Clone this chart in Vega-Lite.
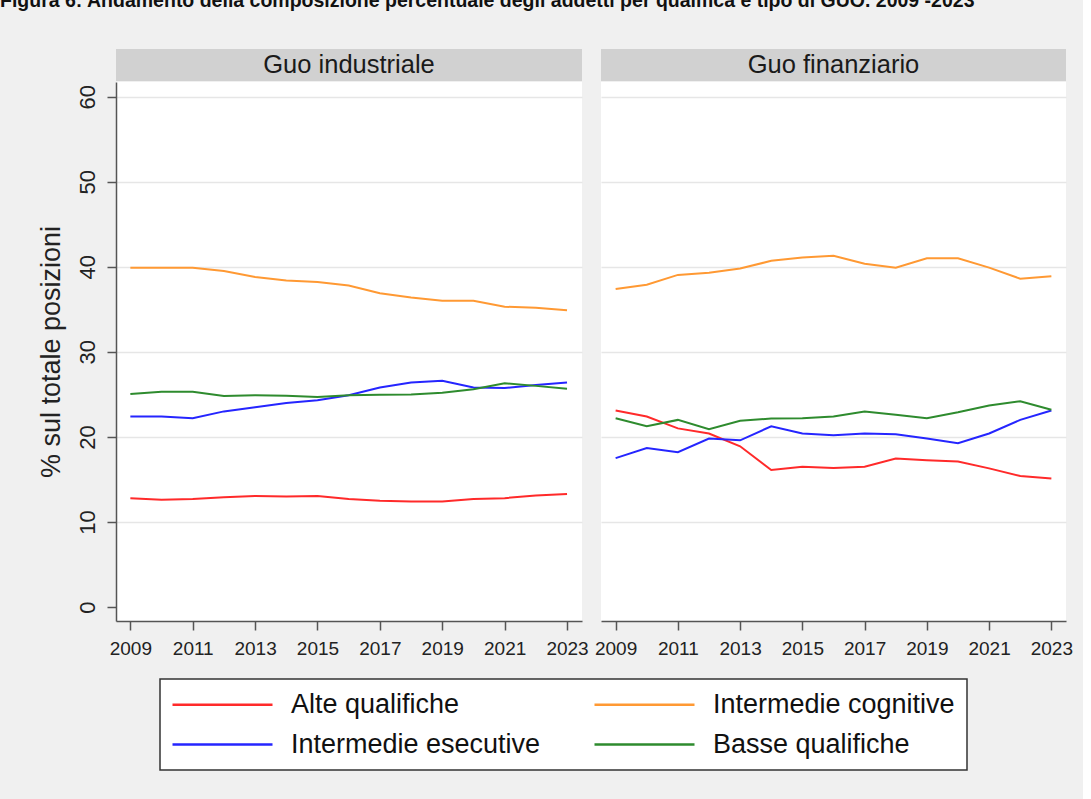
{
  "$schema": "https://vega.github.io/schema/vega-lite/v6.json",
  "background": "#f0f0f0",
  "padding": {"left": 0, "top": -9, "right": 10, "bottom": 29},
  "title": {
    "text": "Figura 6: Andamento della composizione percentuale degli addetti per qualifica e tipo di GUO. 2009 -2023",
    "anchor": "start",
    "frame": "bounds",
    "font": "Liberation Sans Narrow, Liberation Sans",
    "fontSize": 19.5,
    "fontWeight": "bold",
    "color": "#111111",
    "dx": -37,
    "offset": 37.5
  },
  "datasets": {
    "d": [
      {"guo": "Guo industriale", "qualifica": "Alte qualifiche", "anno": 2009, "valore": 12.8},
      {"guo": "Guo industriale", "qualifica": "Alte qualifiche", "anno": 2010, "valore": 12.6},
      {"guo": "Guo industriale", "qualifica": "Alte qualifiche", "anno": 2011, "valore": 12.7},
      {"guo": "Guo industriale", "qualifica": "Alte qualifiche", "anno": 2012, "valore": 12.9},
      {"guo": "Guo industriale", "qualifica": "Alte qualifiche", "anno": 2013, "valore": 13.05},
      {"guo": "Guo industriale", "qualifica": "Alte qualifiche", "anno": 2014, "valore": 13.0},
      {"guo": "Guo industriale", "qualifica": "Alte qualifiche", "anno": 2015, "valore": 13.05},
      {"guo": "Guo industriale", "qualifica": "Alte qualifiche", "anno": 2016, "valore": 12.7},
      {"guo": "Guo industriale", "qualifica": "Alte qualifiche", "anno": 2017, "valore": 12.5},
      {"guo": "Guo industriale", "qualifica": "Alte qualifiche", "anno": 2018, "valore": 12.4},
      {"guo": "Guo industriale", "qualifica": "Alte qualifiche", "anno": 2019, "valore": 12.4},
      {"guo": "Guo industriale", "qualifica": "Alte qualifiche", "anno": 2020, "valore": 12.7},
      {"guo": "Guo industriale", "qualifica": "Alte qualifiche", "anno": 2021, "valore": 12.8},
      {"guo": "Guo industriale", "qualifica": "Alte qualifiche", "anno": 2022, "valore": 13.1},
      {"guo": "Guo industriale", "qualifica": "Alte qualifiche", "anno": 2023, "valore": 13.3},
      {"guo": "Guo industriale", "qualifica": "Intermedie cognitive", "anno": 2009, "valore": 39.9},
      {"guo": "Guo industriale", "qualifica": "Intermedie cognitive", "anno": 2010, "valore": 39.9},
      {"guo": "Guo industriale", "qualifica": "Intermedie cognitive", "anno": 2011, "valore": 39.9},
      {"guo": "Guo industriale", "qualifica": "Intermedie cognitive", "anno": 2012, "valore": 39.5},
      {"guo": "Guo industriale", "qualifica": "Intermedie cognitive", "anno": 2013, "valore": 38.8},
      {"guo": "Guo industriale", "qualifica": "Intermedie cognitive", "anno": 2014, "valore": 38.4},
      {"guo": "Guo industriale", "qualifica": "Intermedie cognitive", "anno": 2015, "valore": 38.2},
      {"guo": "Guo industriale", "qualifica": "Intermedie cognitive", "anno": 2016, "valore": 37.8},
      {"guo": "Guo industriale", "qualifica": "Intermedie cognitive", "anno": 2017, "valore": 36.9},
      {"guo": "Guo industriale", "qualifica": "Intermedie cognitive", "anno": 2018, "valore": 36.4},
      {"guo": "Guo industriale", "qualifica": "Intermedie cognitive", "anno": 2019, "valore": 36.0},
      {"guo": "Guo industriale", "qualifica": "Intermedie cognitive", "anno": 2020, "valore": 36.0},
      {"guo": "Guo industriale", "qualifica": "Intermedie cognitive", "anno": 2021, "valore": 35.3},
      {"guo": "Guo industriale", "qualifica": "Intermedie cognitive", "anno": 2022, "valore": 35.2},
      {"guo": "Guo industriale", "qualifica": "Intermedie cognitive", "anno": 2023, "valore": 34.9},
      {"guo": "Guo industriale", "qualifica": "Intermedie esecutive", "anno": 2009, "valore": 22.4},
      {"guo": "Guo industriale", "qualifica": "Intermedie esecutive", "anno": 2010, "valore": 22.4},
      {"guo": "Guo industriale", "qualifica": "Intermedie esecutive", "anno": 2011, "valore": 22.2},
      {"guo": "Guo industriale", "qualifica": "Intermedie esecutive", "anno": 2012, "valore": 23.0},
      {"guo": "Guo industriale", "qualifica": "Intermedie esecutive", "anno": 2013, "valore": 23.5},
      {"guo": "Guo industriale", "qualifica": "Intermedie esecutive", "anno": 2014, "valore": 24.0},
      {"guo": "Guo industriale", "qualifica": "Intermedie esecutive", "anno": 2015, "valore": 24.3},
      {"guo": "Guo industriale", "qualifica": "Intermedie esecutive", "anno": 2016, "valore": 24.9},
      {"guo": "Guo industriale", "qualifica": "Intermedie esecutive", "anno": 2017, "valore": 25.8},
      {"guo": "Guo industriale", "qualifica": "Intermedie esecutive", "anno": 2018, "valore": 26.4},
      {"guo": "Guo industriale", "qualifica": "Intermedie esecutive", "anno": 2019, "valore": 26.6},
      {"guo": "Guo industriale", "qualifica": "Intermedie esecutive", "anno": 2020, "valore": 25.8},
      {"guo": "Guo industriale", "qualifica": "Intermedie esecutive", "anno": 2021, "valore": 25.75},
      {"guo": "Guo industriale", "qualifica": "Intermedie esecutive", "anno": 2022, "valore": 26.1},
      {"guo": "Guo industriale", "qualifica": "Intermedie esecutive", "anno": 2023, "valore": 26.4},
      {"guo": "Guo industriale", "qualifica": "Basse qualifiche", "anno": 2009, "valore": 25.05},
      {"guo": "Guo industriale", "qualifica": "Basse qualifiche", "anno": 2010, "valore": 25.3},
      {"guo": "Guo industriale", "qualifica": "Basse qualifiche", "anno": 2011, "valore": 25.3},
      {"guo": "Guo industriale", "qualifica": "Basse qualifiche", "anno": 2012, "valore": 24.8},
      {"guo": "Guo industriale", "qualifica": "Basse qualifiche", "anno": 2013, "valore": 24.9},
      {"guo": "Guo industriale", "qualifica": "Basse qualifiche", "anno": 2014, "valore": 24.85},
      {"guo": "Guo industriale", "qualifica": "Basse qualifiche", "anno": 2015, "valore": 24.7},
      {"guo": "Guo industriale", "qualifica": "Basse qualifiche", "anno": 2016, "valore": 24.9},
      {"guo": "Guo industriale", "qualifica": "Basse qualifiche", "anno": 2017, "valore": 24.95},
      {"guo": "Guo industriale", "qualifica": "Basse qualifiche", "anno": 2018, "valore": 25.0},
      {"guo": "Guo industriale", "qualifica": "Basse qualifiche", "anno": 2019, "valore": 25.2},
      {"guo": "Guo industriale", "qualifica": "Basse qualifiche", "anno": 2020, "valore": 25.6},
      {"guo": "Guo industriale", "qualifica": "Basse qualifiche", "anno": 2021, "valore": 26.3},
      {"guo": "Guo industriale", "qualifica": "Basse qualifiche", "anno": 2022, "valore": 26.0},
      {"guo": "Guo industriale", "qualifica": "Basse qualifiche", "anno": 2023, "valore": 25.65},
      {"guo": "Guo finanziario", "qualifica": "Alte qualifiche", "anno": 2009, "valore": 23.1},
      {"guo": "Guo finanziario", "qualifica": "Alte qualifiche", "anno": 2010, "valore": 22.4},
      {"guo": "Guo finanziario", "qualifica": "Alte qualifiche", "anno": 2011, "valore": 21.0},
      {"guo": "Guo finanziario", "qualifica": "Alte qualifiche", "anno": 2012, "valore": 20.4},
      {"guo": "Guo finanziario", "qualifica": "Alte qualifiche", "anno": 2013, "valore": 18.9},
      {"guo": "Guo finanziario", "qualifica": "Alte qualifiche", "anno": 2014, "valore": 16.1},
      {"guo": "Guo finanziario", "qualifica": "Alte qualifiche", "anno": 2015, "valore": 16.5},
      {"guo": "Guo finanziario", "qualifica": "Alte qualifiche", "anno": 2016, "valore": 16.35},
      {"guo": "Guo finanziario", "qualifica": "Alte qualifiche", "anno": 2017, "valore": 16.5},
      {"guo": "Guo finanziario", "qualifica": "Alte qualifiche", "anno": 2018, "valore": 17.45},
      {"guo": "Guo finanziario", "qualifica": "Alte qualifiche", "anno": 2019, "valore": 17.25},
      {"guo": "Guo finanziario", "qualifica": "Alte qualifiche", "anno": 2020, "valore": 17.1},
      {"guo": "Guo finanziario", "qualifica": "Alte qualifiche", "anno": 2021, "valore": 16.3},
      {"guo": "Guo finanziario", "qualifica": "Alte qualifiche", "anno": 2022, "valore": 15.4},
      {"guo": "Guo finanziario", "qualifica": "Alte qualifiche", "anno": 2023, "valore": 15.1},
      {"guo": "Guo finanziario", "qualifica": "Intermedie cognitive", "anno": 2009, "valore": 37.4},
      {"guo": "Guo finanziario", "qualifica": "Intermedie cognitive", "anno": 2010, "valore": 37.9},
      {"guo": "Guo finanziario", "qualifica": "Intermedie cognitive", "anno": 2011, "valore": 39.05},
      {"guo": "Guo finanziario", "qualifica": "Intermedie cognitive", "anno": 2012, "valore": 39.3},
      {"guo": "Guo finanziario", "qualifica": "Intermedie cognitive", "anno": 2013, "valore": 39.8},
      {"guo": "Guo finanziario", "qualifica": "Intermedie cognitive", "anno": 2014, "valore": 40.7},
      {"guo": "Guo finanziario", "qualifica": "Intermedie cognitive", "anno": 2015, "valore": 41.1},
      {"guo": "Guo finanziario", "qualifica": "Intermedie cognitive", "anno": 2016, "valore": 41.3},
      {"guo": "Guo finanziario", "qualifica": "Intermedie cognitive", "anno": 2017, "valore": 40.35},
      {"guo": "Guo finanziario", "qualifica": "Intermedie cognitive", "anno": 2018, "valore": 39.9},
      {"guo": "Guo finanziario", "qualifica": "Intermedie cognitive", "anno": 2019, "valore": 41.0},
      {"guo": "Guo finanziario", "qualifica": "Intermedie cognitive", "anno": 2020, "valore": 41.0},
      {"guo": "Guo finanziario", "qualifica": "Intermedie cognitive", "anno": 2021, "valore": 39.9},
      {"guo": "Guo finanziario", "qualifica": "Intermedie cognitive", "anno": 2022, "valore": 38.6},
      {"guo": "Guo finanziario", "qualifica": "Intermedie cognitive", "anno": 2023, "valore": 38.9},
      {"guo": "Guo finanziario", "qualifica": "Intermedie esecutive", "anno": 2009, "valore": 17.5},
      {"guo": "Guo finanziario", "qualifica": "Intermedie esecutive", "anno": 2010, "valore": 18.7},
      {"guo": "Guo finanziario", "qualifica": "Intermedie esecutive", "anno": 2011, "valore": 18.2},
      {"guo": "Guo finanziario", "qualifica": "Intermedie esecutive", "anno": 2012, "valore": 19.8},
      {"guo": "Guo finanziario", "qualifica": "Intermedie esecutive", "anno": 2013, "valore": 19.6},
      {"guo": "Guo finanziario", "qualifica": "Intermedie esecutive", "anno": 2014, "valore": 21.25},
      {"guo": "Guo finanziario", "qualifica": "Intermedie esecutive", "anno": 2015, "valore": 20.4},
      {"guo": "Guo finanziario", "qualifica": "Intermedie esecutive", "anno": 2016, "valore": 20.2},
      {"guo": "Guo finanziario", "qualifica": "Intermedie esecutive", "anno": 2017, "valore": 20.4},
      {"guo": "Guo finanziario", "qualifica": "Intermedie esecutive", "anno": 2018, "valore": 20.3},
      {"guo": "Guo finanziario", "qualifica": "Intermedie esecutive", "anno": 2019, "valore": 19.8},
      {"guo": "Guo finanziario", "qualifica": "Intermedie esecutive", "anno": 2020, "valore": 19.25},
      {"guo": "Guo finanziario", "qualifica": "Intermedie esecutive", "anno": 2021, "valore": 20.4},
      {"guo": "Guo finanziario", "qualifica": "Intermedie esecutive", "anno": 2022, "valore": 22.0},
      {"guo": "Guo finanziario", "qualifica": "Intermedie esecutive", "anno": 2023, "valore": 23.1},
      {"guo": "Guo finanziario", "qualifica": "Basse qualifiche", "anno": 2009, "valore": 22.2},
      {"guo": "Guo finanziario", "qualifica": "Basse qualifiche", "anno": 2010, "valore": 21.25},
      {"guo": "Guo finanziario", "qualifica": "Basse qualifiche", "anno": 2011, "valore": 22.0},
      {"guo": "Guo finanziario", "qualifica": "Basse qualifiche", "anno": 2012, "valore": 20.9},
      {"guo": "Guo finanziario", "qualifica": "Basse qualifiche", "anno": 2013, "valore": 21.9},
      {"guo": "Guo finanziario", "qualifica": "Basse qualifiche", "anno": 2014, "valore": 22.15},
      {"guo": "Guo finanziario", "qualifica": "Basse qualifiche", "anno": 2015, "valore": 22.2},
      {"guo": "Guo finanziario", "qualifica": "Basse qualifiche", "anno": 2016, "valore": 22.4},
      {"guo": "Guo finanziario", "qualifica": "Basse qualifiche", "anno": 2017, "valore": 23.0},
      {"guo": "Guo finanziario", "qualifica": "Basse qualifiche", "anno": 2018, "valore": 22.6},
      {"guo": "Guo finanziario", "qualifica": "Basse qualifiche", "anno": 2019, "valore": 22.2},
      {"guo": "Guo finanziario", "qualifica": "Basse qualifiche", "anno": 2020, "valore": 22.9},
      {"guo": "Guo finanziario", "qualifica": "Basse qualifiche", "anno": 2021, "valore": 23.7},
      {"guo": "Guo finanziario", "qualifica": "Basse qualifiche", "anno": 2022, "valore": 24.2},
      {"guo": "Guo finanziario", "qualifica": "Basse qualifiche", "anno": 2023, "valore": 23.2}
    ]
  },
  "columns": 2,
  "spacing": {"row": 1, "column": 19},
  "bounds": "flush",
  "concat": [
    {
      "width": 466,
      "height": 32,
      "data": {"values": [{"t": "Guo industriale"}]},
      "mark": {"type": "text", "font": "Liberation Sans", "fontSize": 25.5, "color": "#1a1a1a"},
      "encoding": {
        "x": {"field": "t", "type": "nominal", "axis": null},
        "y": {"field": "t", "type": "nominal", "axis": null},
        "text": {"field": "t"}
      },
      "view": {"fill": "#d1d1d1", "stroke": null}
    },
    {
      "width": 465,
      "height": 32,
      "data": {"values": [{"t": "Guo finanziario"}]},
      "mark": {"type": "text", "font": "Liberation Sans", "fontSize": 25.5, "color": "#1a1a1a"},
      "encoding": {
        "x": {"field": "t", "type": "nominal", "axis": null},
        "y": {"field": "t", "type": "nominal", "axis": null},
        "text": {"field": "t"}
      },
      "view": {"fill": "#d1d1d1", "stroke": null}
    },
    {
      "width": 466,
      "height": 539,
      "data": {"name": "d"},
      "transform": [{"filter": "datum.guo === 'Guo industriale'"}],
      "mark": {"type": "line", "strokeWidth": 2, "clip": true},
      "encoding": {
        "x": {
          "field": "anno", "type": "quantitative",
          "scale": {"domain": [2008.54, 2023.48], "nice": false, "zero": false},
          "axis": {"values": [2009, 2011, 2013, 2015, 2017, 2019, 2021, 2023], "format": "d", "title": null, "grid": false}
        },
        "y": {
          "field": "valore", "type": "quantitative",
          "scale": {"domain": [-1.646, 61.73], "nice": false, "zero": false},
          "axis": {
            "values": [0, 10, 20, 30, 40, 50, 60],
            "title": "% sul totale posizioni",
            "labelAngle": -90, "labelAlign": "center", "labelBaseline": "bottom",
            "labelFontSize": 22, "labelPadding": 8,
            "titleFontSize": 27, "titlePadding": 11,
            "gridOpacity": {"condition": {"test": "datum.value === 0", "value": 0}, "value": 1}
          }
        },
        "color": {
          "field": "qualifica", "type": "nominal",
          "scale": {
            "domain": ["Alte qualifiche", "Intermedie cognitive", "Intermedie esecutive", "Basse qualifiche"],
            "range": ["#ff2a2a", "#ff9933", "#2525ff", "#2e8b2e"]
          },
          "legend": {
            "orient": "none", "legendX": 44, "legendY": 630,
            "direction": "horizontal", "columns": 2, "title": null,
            "symbolType": "M-1.3,0H8.7", "symbolSize": 400, "symbolStrokeWidth": 2.5,
            "labelFont": "Liberation Sans", "labelFontSize": 27, "labelColor": "#111111",
            "labelOffset": 92, "labelLimit": 400, "columnPadding": 48, "rowPadding": 12,
            "padding": 12, "strokeColor": "#333333", "fillColor": "#ffffff"
          }
        }
      }
    },
    {
      "width": 465,
      "height": 539,
      "data": {"name": "d"},
      "transform": [{"filter": "datum.guo === 'Guo finanziario'"}],
      "mark": {"type": "line", "strokeWidth": 2, "clip": true},
      "encoding": {
        "x": {
          "field": "anno", "type": "quantitative",
          "scale": {"domain": [2008.53, 2023.47], "nice": false, "zero": false},
          "axis": {"values": [2009, 2011, 2013, 2015, 2017, 2019, 2021, 2023], "format": "d", "title": null, "grid": false}
        },
        "y": {
          "field": "valore", "type": "quantitative",
          "scale": {"domain": [-1.646, 61.73], "nice": false, "zero": false},
          "axis": {
            "values": [0, 10, 20, 30, 40, 50, 60],
            "title": null, "labels": false, "ticks": false, "domain": false,
            "gridOpacity": {"condition": {"test": "datum.value === 0", "value": 0}, "value": 1}
          }
        },
        "color": {
          "field": "qualifica", "type": "nominal",
          "scale": {
            "domain": ["Alte qualifiche", "Intermedie cognitive", "Intermedie esecutive", "Basse qualifiche"],
            "range": ["#ff2a2a", "#ff9933", "#2525ff", "#2e8b2e"]
          }
        }
      }
    }
  ],
  "config": {
    "font": "Liberation Sans",
    "view": {"fill": "#ffffff", "stroke": null},
    "axis": {
      "labelFont": "Liberation Sans",
      "labelColor": "#222222",
      "titleFont": "Liberation Sans",
      "titleColor": "#222222",
      "titleFontWeight": "normal",
      "domainColor": "#555555",
      "domainWidth": 1.5,
      "tickColor": "#555555",
      "tickWidth": 1.5,
      "tickSize": 9,
      "gridColor": "#e6e6e6",
      "gridWidth": 1.5,
      "labelOverlap": false,
      "labelFlush": false
    },
    "axisX": {"labelFontSize": 19, "labelPadding": 9},
    "legend": {"strokeWidth": 1.5}
  }
}
